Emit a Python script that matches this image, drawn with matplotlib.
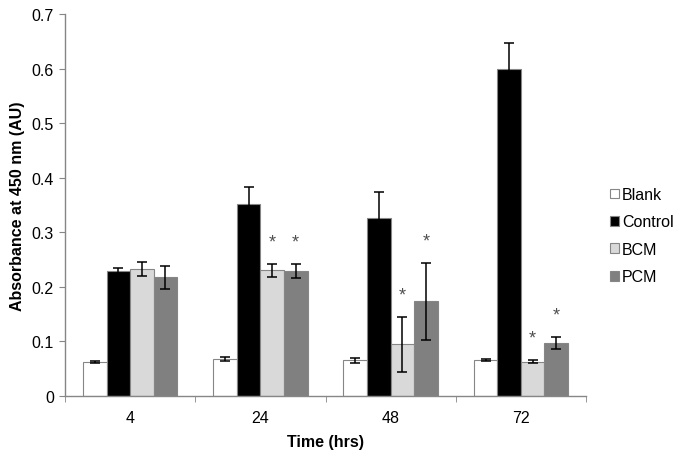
import matplotlib
matplotlib.use("Agg")
import matplotlib.pyplot as plt
import numpy as np
from matplotlib.patches import Patch

plt.rcParams['font.family'] = ['Liberation Sans', 'DejaVu Sans']

times = ['4', '24', '48', '72']
series_names = ['Blank', 'Control', 'BCM', 'PCM']
blank = [0.062, 0.067, 0.065, 0.065]
blank_err = [0.002, 0.004, 0.005, 0.002]
control = [0.229, 0.352, 0.326, 0.600]
control_err = [0.005, 0.030, 0.047, 0.047]
bcm = [0.233, 0.230, 0.094, 0.0625]
bcm_err = [0.013, 0.012, 0.051, 0.003]
pcm = [0.217, 0.229, 0.173, 0.097]
pcm_err = [0.021, 0.013, 0.071, 0.011]
bcm_sig = [False, True, True, True]
pcm_sig = [False, True, True, True]

colors = ['#ffffff', '#000000', '#d9d9d9', '#808080']
values = [blank, control, bcm, pcm]
errors = [blank_err, control_err, bcm_err, pcm_err]
sigs = [None, None, bcm_sig, pcm_sig]

fig = plt.figure(figsize=(6.82, 4.56), dpi=100)
ax = fig.add_axes([65/682, 1 - 396.7/456, (586 - 65)/682, (396.7 - 15)/456])

x = np.arange(len(times))
width = 0.181
offsets = (np.arange(4) - 1.5) * width
spine_c = '#868686'
fs = 11.5

for i in range(4):
    ax.bar(x + offsets[i], values[i], width, color=colors[i], edgecolor=spine_c,
           linewidth=0.8, zorder=2)
    ax.errorbar(x + offsets[i], values[i], yerr=errors[i], fmt='none', ecolor='black',
                elinewidth=1.1, capsize=3.5, capthick=1.1, zorder=3)
    if sigs[i] is not None:
        for j in range(len(times)):
            if sigs[i][j]:
                ax.annotate('*', xy=(x[j] + offsets[i], values[i][j] + errors[i][j]),
                            xytext=(0, 15.5), textcoords='offset points',
                            ha='center', va='center', fontsize=13, color='#505050')

ax.set_xlim(-0.5, 3.5)
ax.set_ylim(0, 0.7)
ax.set_yticks(np.arange(0, 0.71, 0.1))
ax.set_yticklabels(['0'] + ['%.1f' % v for v in np.arange(0.1, 0.71, 0.1)])
ax.set_xticks(x)
ax.set_xticklabels(times)
ax.set_xticks(np.arange(-0.5, 3.6, 1), minor=True)
ax.tick_params(axis='x', which='major', length=0, pad=10, labelsize=fs, colors='black')
ax.tick_params(axis='x', which='minor', length=4, direction='out', color=spine_c)
ax.tick_params(axis='y', length=4, direction='out', color=spine_c, labelsize=fs, pad=4)

for s in ['top', 'right']:
    ax.spines[s].set_visible(False)
for s in ['left', 'bottom']:
    ax.spines[s].set_color(spine_c)
    ax.spines[s].set_linewidth(1.0)

ax.set_ylabel('Absorbance at 450 nm (AU)', fontsize=fs, fontweight='bold', labelpad=5)
ax.set_xlabel('Time (hrs)', fontsize=fs, fontweight='bold', labelpad=7)

handles = [Patch(facecolor=c, edgecolor=spine_c, linewidth=0.8) for c in colors]
fig.legend(handles, series_names, loc='upper left', bbox_to_anchor=(610/682, 1 - 188/456),
           frameon=False, fontsize=fs, handlelength=0.55, handleheight=0.55,
           handletextpad=0.2, labelspacing=0.78, borderpad=0, borderaxespad=0)

fig.savefig('out.png', dpi=100)
